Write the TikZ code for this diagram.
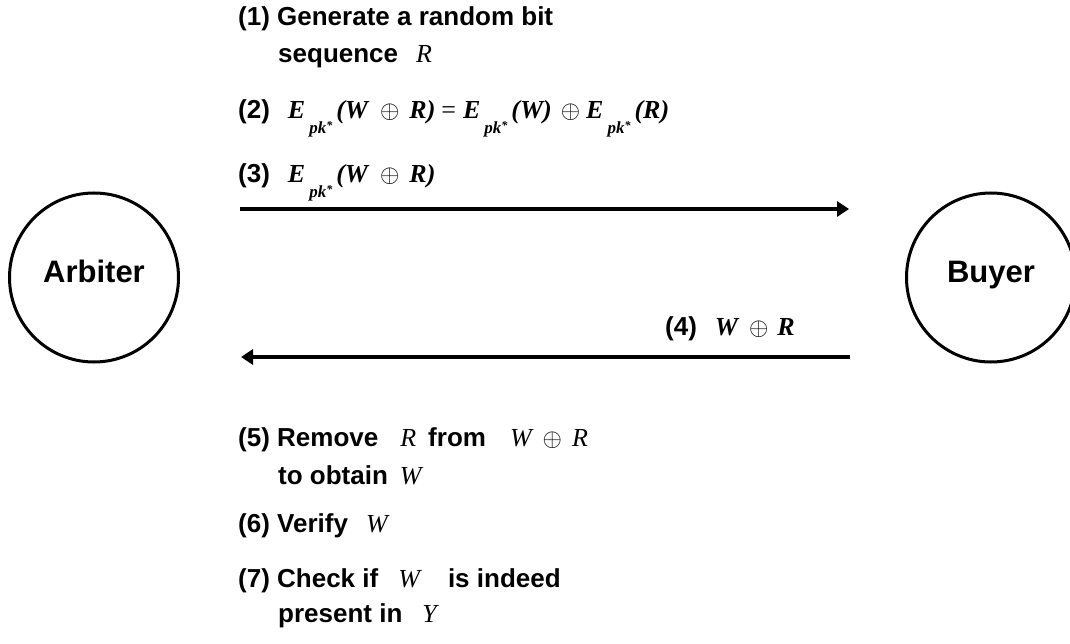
\documentclass[tikz,border=0pt]{standalone}
\usepackage{fontspec}
\setmainfont{Liberation Sans}
\newfontfamily\tnr{Liberation Serif}
\usetikzlibrary{arrows.meta}
\newcommand\mv[1]{{\tnr\mdseries\itshape #1}}
\newcommand\mbv[1]{{\tnr\bfseries\itshape #1}}
\newcommand\pks{\hspace{4pt}\raisebox{-15pt}{\fontsize{17}{17}\selectfont\tnr\bfseries\itshape pk\raisebox{4pt}{\fontsize{12}{12}\selectfont *}}\hspace{4pt}}
\newcommand\xo[2]{\hspace{#1}$\oplus$\hspace{#2}}
\begin{document}
\begin{tikzpicture}[x=1pt,y=-1pt,
  party/.style={circle,draw,line width=3pt,minimum size=169pt,inner sep=0pt,
    text height=24pt,text depth=15pt,font=\fontsize{31}{31}\selectfont\bfseries},
  steptext/.style={anchor=base west,inner sep=0pt,font=\fontsize{26}{26}\selectfont\bfseries},
  msg/.style={line width=3.3pt,-{Triangle[length=12pt,width=15pt]}}]
\useasboundingbox (0,0) rectangle (1070,644);
\node[party] (arb) at (94,277.5) {Arbiter};
\node[party] (buy) at (991,277.5) {Buyer};
\coordinate (a1) at (240,209);
\coordinate (b1) at (849,209);
\coordinate (b2) at (850,357);
\coordinate (a2) at (241,357);
\draw[msg] (a1) -- (b1);
\draw[msg] (b2) -- (a2);
\node[steptext] (s1) at (238,26) {(1) Generate a random bit};
\node[steptext] (s1b) at (278,63) {sequence\hspace{18pt}\mv{R}};
\node[steptext] (s2) at (238,119) {(2)\hspace{18pt}\mbv{E}\pks\mbv{(W}\xo{12pt}{10pt}\mbv{R)}\hspace{6pt}{\tnr\mdseries=}\hspace{7pt}\mbv{E}\pks\mbv{(W)}\xo{9pt}{6pt}\mbv{E}\pks\mbv{(R)}};
\node[steptext] (s3) at (238,183) {(3)\hspace{18pt}\mbv{E}\pks\mbv{(W}\xo{12pt}{10pt}\mbv{R)}};
\node[steptext] (s4) at (665,335) {(4)\hspace{18pt}\mbv{W}\xo{11pt}{9pt}\mbv{R}};
\node[steptext] (s5) at (238,446) {(5) Remove\hspace{22pt}\mv{R}\hspace{12pt}from\hspace{24pt}\mv{W}\xo{11pt}{10pt}\mv{R}};
\node[steptext] (s5b) at (278,484) {to obtain\hspace{12pt}\mv{W}};
\node[steptext] (s6) at (238,532) {(6) Verify\hspace{18pt}\mv{W}};
\node[steptext] (s7) at (238,587) {(7) Check if\hspace{20pt}\mv{W}\hspace{28pt}is indeed};
\node[steptext] (s7b) at (278,622) {present in\hspace{20pt}\mv{Y}};
\end{tikzpicture}
\end{document}
